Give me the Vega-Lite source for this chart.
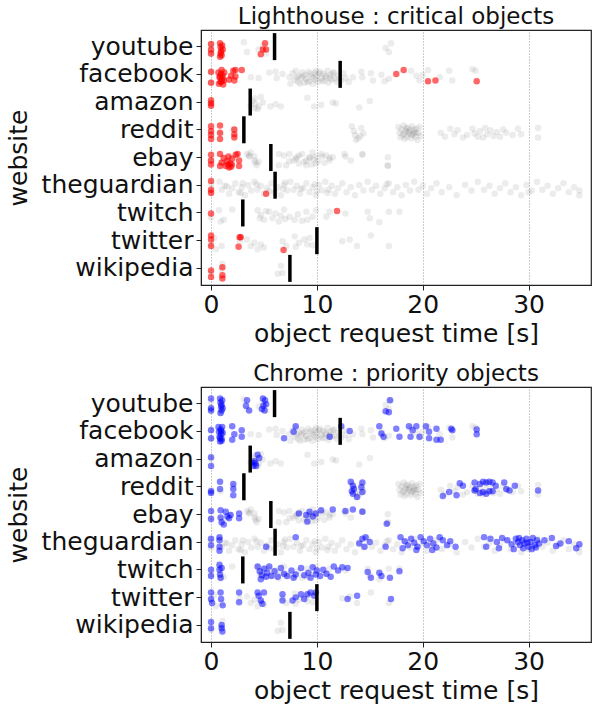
{
"$schema": "https://vega.github.io/schema/vega-lite/v6.json",
"padding": {"left": 5, "top": 5, "right": 0, "bottom": 5},
"spacing": 15,
"config": {
  "font": "DejaVu Sans",
  "view": {"stroke": "#222", "strokeWidth": 1.2},
  "title": {"fontSize": 23, "fontWeight": "normal", "color": "#111", "font": "DejaVu Sans", "offset": 1},
  "axis": {"labelFontSize": 25, "titleFontSize": 25, "labelColor": "#111", "titleColor": "#111", "titleFontWeight": "normal", "domainColor": "#222", "tickColor": "#222", "labelFont": "DejaVu Sans", "titleFont": "DejaVu Sans", "tickSize": 5},
  "axisX": {"grid": true, "gridDash": [1, 2], "gridColor": "#999", "labelPadding": 2, "titlePadding": 4},
  "axisY": {"grid": false, "labelPadding": 3, "titlePadding": 10}
},
"datasets": {
"all": [
{"w":"youtube","t":0,"j":-0.6},{"w":"youtube","t":0,"j":0.1},{"w":"youtube","t":0,"j":0.6},{"w":"youtube","t":0.9,"j":-0.5},{"w":"youtube","t":0.9,"j":0.3},{"w":"youtube","t":0.9,"j":0.8},{"w":"youtube","t":3.1,"j":-0.9},{"w":"youtube","t":3.4,"j":0.3},{"w":"youtube","t":4.5,"j":0},{"w":"youtube","t":4.9,"j":-0.4},{"w":"youtube","t":5.2,"j":0.5},{"w":"youtube","t":16.5,"j":-0.2},{"w":"youtube","t":16.8,"j":0.3},{"w":"youtube","t":17.0,"j":-0.8},
{"w":"facebook","t":0,"j":-0.6},{"w":"facebook","t":0,"j":0.6},{"w":"facebook","t":0.9,"j":-0.3},{"w":"facebook","t":0.9,"j":0.5},{"w":"facebook","t":1.1,"j":0},{"w":"facebook","t":3.75,"j":0},{"w":"facebook","t":4.5,"j":0.1},{"w":"facebook","t":5.5,"j":-0.6},{"w":"facebook","t":6.1,"j":-0.7},{"w":"facebook","t":6.2,"j":0.1},{"w":"facebook","t":6.75,"j":-0.4},{"w":"facebook","t":7.4,"j":0},{"w":"facebook","t":7.5,"j":0.8},{"w":"facebook","t":7.7,"j":-0.5},{"w":"facebook","t":7.9,"j":0.3},{"w":"facebook","t":8.0,"j":-0.8},{"w":"facebook","t":8.2,"j":0.6},{"w":"facebook","t":8.3,"j":-0.2},{"w":"facebook","t":8.5,"j":0.1},{"w":"facebook","t":8.6,"j":-0.6},{"w":"facebook","t":8.8,"j":0.7},{"w":"facebook","t":8.9,"j":-0.3},{"w":"facebook","t":9.0,"j":0.2},{"w":"facebook","t":9.2,"j":-0.7},{"w":"facebook","t":9.3,"j":0.5},{"w":"facebook","t":9.5,"j":-0.1},{"w":"facebook","t":9.6,"j":0.8},{"w":"facebook","t":9.8,"j":-0.5},{"w":"facebook","t":9.9,"j":0.3},{"w":"facebook","t":10.0,"j":-0.2},{"w":"facebook","t":10.1,"j":0.6},{"w":"facebook","t":10.3,"j":-0.7},{"w":"facebook","t":10.4,"j":0.1},{"w":"facebook","t":10.6,"j":-0.4},{"w":"facebook","t":10.7,"j":0.5},{"w":"facebook","t":10.9,"j":0},{"w":"facebook","t":11.0,"j":-0.8},{"w":"facebook","t":11.1,"j":0.7},{"w":"facebook","t":11.3,"j":-0.3},{"w":"facebook","t":11.4,"j":0.3},{"w":"facebook","t":11.6,"j":-0.6},{"w":"facebook","t":11.7,"j":0.2},{"w":"facebook","t":11.9,"j":0.6},{"w":"facebook","t":12.0,"j":-0.2},{"w":"facebook","t":12.3,"j":0.4},{"w":"facebook","t":12.5,"j":-0.5},{"w":"facebook","t":12.7,"j":0.1},{"w":"facebook","t":13.0,"j":0.6},{"w":"facebook","t":13.4,"j":0},{"w":"facebook","t":14.2,"j":-0.7},{"w":"facebook","t":14.3,"j":0},{"w":"facebook","t":15.1,"j":-0.5},{"w":"facebook","t":15.3,"j":0.4},{"w":"facebook","t":16.1,"j":-0.3},{"w":"facebook","t":16.4,"j":0.5},{"w":"facebook","t":16.8,"j":0.2},{"w":"facebook","t":18.9,"j":-0.8},{"w":"facebook","t":19.4,"j":-0.2},{"w":"facebook","t":19.7,"j":0.4},{"w":"facebook","t":20.0,"j":-0.3},{"w":"facebook","t":20.5,"j":-0.9},{"w":"facebook","t":21.6,"j":0},{"w":"facebook","t":22.5,"j":-0.8},{"w":"facebook","t":22.8,"j":0.4},{"w":"facebook","t":24.7,"j":-1},{"w":"facebook","t":25.0,"j":-0.8},{"w":"facebook","t":8.1,"j":0},{"w":"facebook","t":8.7,"j":-0.1},{"w":"facebook","t":9.1,"j":0.6},{"w":"facebook","t":9.4,"j":-0.4},{"w":"facebook","t":9.7,"j":0.1},{"w":"facebook","t":10.2,"j":-0.5},{"w":"facebook","t":10.5,"j":0.4},{"w":"facebook","t":10.8,"j":-0.2},{"w":"facebook","t":11.2,"j":0.1},{"w":"facebook","t":11.5,"j":-0.5},{"w":"facebook","t":8.4,"j":0.8},{"w":"facebook","t":9.9,"j":-0.8},
{"w":"amazon","t":0,"j":-0.3},{"w":"amazon","t":3.75,"j":0.1},{"w":"amazon","t":3.9,"j":-0.5},{"w":"amazon","t":4.1,"j":-0.8},{"w":"amazon","t":4.2,"j":-0.2},{"w":"amazon","t":4.5,"j":0.2},{"w":"amazon","t":4.1,"j":0.4},{"w":"amazon","t":4.7,"j":-1},{"w":"amazon","t":4.9,"j":-0.3},{"w":"amazon","t":5.6,"j":0.2},{"w":"amazon","t":6.1,"j":-0.1},{"w":"amazon","t":6.6,"j":0.2},{"w":"amazon","t":9.1,"j":-0.9},{"w":"amazon","t":9.75,"j":0.2},{"w":"amazon","t":10.4,"j":0},{"w":"amazon","t":11.5,"j":-0.3},{"w":"amazon","t":11.8,"j":-0.2},{"w":"amazon","t":14.0,"j":0.3},{"w":"amazon","t":15.0,"j":-0.5},{"w":"amazon","t":4.4,"j":0.5},
{"w":"reddit","t":0,"j":0},{"w":"reddit","t":0.9,"j":0.2},{"w":"reddit","t":2.1,"j":-0.4},{"w":"reddit","t":13.3,"j":-0.8},{"w":"reddit","t":13.5,"j":-0.2},{"w":"reddit","t":13.6,"j":0.3},{"w":"reddit","t":13.9,"j":0.7},{"w":"reddit","t":14.2,"j":-0.6},{"w":"reddit","t":14.4,"j":0.1},{"w":"reddit","t":13.7,"j":0.9},{"w":"reddit","t":14.1,"j":0.4},{"w":"reddit","t":17.7,"j":-0.7},{"w":"reddit","t":17.8,"j":0},{"w":"reddit","t":17.9,"j":0.6},{"w":"reddit","t":18.0,"j":-0.4},{"w":"reddit","t":18.1,"j":0.3},{"w":"reddit","t":18.2,"j":-0.9},{"w":"reddit","t":18.3,"j":0.8},{"w":"reddit","t":18.4,"j":-0.2},{"w":"reddit","t":18.5,"j":0.5},{"w":"reddit","t":18.6,"j":-0.6},{"w":"reddit","t":18.7,"j":0.1},{"w":"reddit","t":18.8,"j":-0.3},{"w":"reddit","t":18.9,"j":0.7},{"w":"reddit","t":19.0,"j":-0.8},{"w":"reddit","t":19.1,"j":0.2},{"w":"reddit","t":19.2,"j":-0.1},{"w":"reddit","t":19.3,"j":0.5},{"w":"reddit","t":19.4,"j":-0.5},{"w":"reddit","t":19.5,"j":0.9},{"w":"reddit","t":19.6,"j":0},{"w":"reddit","t":19.7,"j":-0.7},{"w":"reddit","t":19.8,"j":0.4},{"w":"reddit","t":18.25,"j":0.1},{"w":"reddit","t":18.65,"j":-0.1},{"w":"reddit","t":19.15,"j":-0.4},{"w":"reddit","t":18.45,"j":-0.6},{"w":"reddit","t":18.95,"j":0.3},{"w":"reddit","t":19.35,"j":0},{"w":"reddit","t":21.7,"j":0},{"w":"reddit","t":22.1,"j":0.5},{"w":"reddit","t":22.6,"j":-0.5},{"w":"reddit","t":23.0,"j":0.2},{"w":"reddit","t":23.3,"j":-0.3},{"w":"reddit","t":23.8,"j":0.6},{"w":"reddit","t":24.2,"j":0.3},{"w":"reddit","t":24.7,"j":-0.5},{"w":"reddit","t":24.9,"j":0.1},{"w":"reddit","t":25.2,"j":0.5},{"w":"reddit","t":25.4,"j":-0.2},{"w":"reddit","t":25.7,"j":0.6},{"w":"reddit","t":25.9,"j":-0.6},{"w":"reddit","t":26.1,"j":0.2},{"w":"reddit","t":26.4,"j":-0.3},{"w":"reddit","t":26.7,"j":0.4},{"w":"reddit","t":27.0,"j":-0.1},{"w":"reddit","t":27.3,"j":0.5},{"w":"reddit","t":27.6,"j":-0.4},{"w":"reddit","t":27.9,"j":0},{"w":"reddit","t":28.5,"j":0.3},{"w":"reddit","t":29.0,"j":-0.5},{"w":"reddit","t":29.3,"j":0.2},{"w":"reddit","t":30.9,"j":-0.6},{"w":"reddit","t":30.9,"j":0.6},
{"w":"ebay","t":0,"j":0},{"w":"ebay","t":1.0,"j":0.2},{"w":"ebay","t":1.8,"j":-0.3},{"w":"ebay","t":3.4,"j":-0.8},{"w":"ebay","t":3.75,"j":-1},{"w":"ebay","t":4.1,"j":-0.5},{"w":"ebay","t":4.1,"j":0},{"w":"ebay","t":4.5,"j":0.2},{"w":"ebay","t":3.6,"j":-0.5},{"w":"ebay","t":4.3,"j":0.6},{"w":"ebay","t":6.4,"j":-0.8},{"w":"ebay","t":6.9,"j":-0.6},{"w":"ebay","t":7.4,"j":-0.8},{"w":"ebay","t":8.0,"j":-0.2},{"w":"ebay","t":8.3,"j":-0.6},{"w":"ebay","t":8.6,"j":-0.8},{"w":"ebay","t":9.0,"j":0},{"w":"ebay","t":9.3,"j":-0.4},{"w":"ebay","t":9.6,"j":-1},{"w":"ebay","t":9.9,"j":-0.5},{"w":"ebay","t":10.4,"j":-0.8},{"w":"ebay","t":10.9,"j":-0.6},{"w":"ebay","t":11.2,"j":0},{"w":"ebay","t":11.5,"j":-0.4},{"w":"ebay","t":12.6,"j":-0.8},{"w":"ebay","t":13.2,"j":0},{"w":"ebay","t":14.3,"j":-0.8},{"w":"ebay","t":16.7,"j":-0.4},{"w":"ebay","t":16.7,"j":0.6},{"w":"ebay","t":3.6,"j":-0.6},{"w":"ebay","t":4.2,"j":0.3},{"w":"ebay","t":6.4,"j":0.6},{"w":"ebay","t":7.1,"j":0.6},{"w":"ebay","t":7.4,"j":0.1},{"w":"ebay","t":8.3,"j":0.4},{"w":"ebay","t":9.0,"j":0.6},{"w":"ebay","t":9.3,"j":-0.3},{"w":"ebay","t":9.9,"j":0.4},{"w":"ebay","t":10.5,"j":-0.5},{"w":"ebay","t":11.2,"j":-0.3},{"w":"ebay","t":12.7,"j":-0.5},{"w":"ebay","t":14.3,"j":-0.7},{"w":"ebay","t":16.7,"j":0.7},{"w":"ebay","t":7.8,"j":0},{"w":"ebay","t":8.8,"j":0.2},{"w":"ebay","t":9.5,"j":0.5},{"w":"ebay","t":10.1,"j":0.1},{"w":"ebay","t":8.1,"j":-0.4},{"w":"ebay","t":9.7,"j":-0.2},{"w":"ebay","t":10.7,"j":0.3},
{"w":"theguardian","t":0,"j":-0.5},{"w":"theguardian","t":0,"j":0.4},{"w":"theguardian","t":0.8,"j":-0.8},{"w":"theguardian","t":1.0,"j":0.2},{"w":"theguardian","t":1.3,"j":-0.3},{"w":"theguardian","t":1.7,"j":0.7},{"w":"theguardian","t":2.0,"j":0},{"w":"theguardian","t":2.3,"j":-0.6},{"w":"theguardian","t":2.6,"j":0.5},{"w":"theguardian","t":2.9,"j":-0.1},{"w":"theguardian","t":3.2,"j":0.9},{"w":"theguardian","t":3.5,"j":-0.4},{"w":"theguardian","t":3.8,"j":0.3},{"w":"theguardian","t":4.1,"j":-0.8},{"w":"theguardian","t":4.4,"j":0.2},{"w":"theguardian","t":4.7,"j":-0.3},{"w":"theguardian","t":5.0,"j":0.7},{"w":"theguardian","t":5.3,"j":0},{"w":"theguardian","t":5.7,"j":-0.6},{"w":"theguardian","t":6.0,"j":0.5},{"w":"theguardian","t":6.3,"j":-0.1},{"w":"theguardian","t":6.6,"j":0.9},{"w":"theguardian","t":6.9,"j":-0.4},{"w":"theguardian","t":7.2,"j":0.3},{"w":"theguardian","t":7.5,"j":-0.8},{"w":"theguardian","t":7.8,"j":0.2},{"w":"theguardian","t":8.1,"j":-0.3},{"w":"theguardian","t":8.4,"j":0.7},{"w":"theguardian","t":8.7,"j":0},{"w":"theguardian","t":9.0,"j":-0.6},{"w":"theguardian","t":9.3,"j":0.5},{"w":"theguardian","t":9.6,"j":-0.1},{"w":"theguardian","t":9.9,"j":0.9},{"w":"theguardian","t":10.2,"j":-0.4},{"w":"theguardian","t":10.5,"j":0.3},{"w":"theguardian","t":10.8,"j":-0.8},{"w":"theguardian","t":11.1,"j":0.2},{"w":"theguardian","t":11.4,"j":-0.3},{"w":"theguardian","t":11.7,"j":0.7},{"w":"theguardian","t":12.0,"j":0},{"w":"theguardian","t":12.4,"j":-0.6},{"w":"theguardian","t":12.8,"j":0.5},{"w":"theguardian","t":13.2,"j":-0.1},{"w":"theguardian","t":13.6,"j":0.9},{"w":"theguardian","t":14.0,"j":-0.4},{"w":"theguardian","t":14.4,"j":0.3},{"w":"theguardian","t":14.8,"j":-0.8},{"w":"theguardian","t":15.2,"j":0.2},{"w":"theguardian","t":15.6,"j":-0.3},{"w":"theguardian","t":16.0,"j":0.7},{"w":"theguardian","t":16.4,"j":0},{"w":"theguardian","t":16.8,"j":-0.6},{"w":"theguardian","t":17.2,"j":0.5},{"w":"theguardian","t":17.6,"j":-0.1},{"w":"theguardian","t":18.0,"j":0.9},{"w":"theguardian","t":18.4,"j":-0.4},{"w":"theguardian","t":18.8,"j":0.3},{"w":"theguardian","t":19.2,"j":-0.8},{"w":"theguardian","t":19.6,"j":0.2},{"w":"theguardian","t":20.0,"j":-0.3},{"w":"theguardian","t":20.4,"j":0.7},{"w":"theguardian","t":20.8,"j":0},{"w":"theguardian","t":21.3,"j":-0.6},{"w":"theguardian","t":21.8,"j":0.5},{"w":"theguardian","t":22.5,"j":-0.1},{"w":"theguardian","t":23.2,"j":0.9},{"w":"theguardian","t":24.0,"j":-0.4},{"w":"theguardian","t":24.6,"j":0.3},{"w":"theguardian","t":25.2,"j":-0.8},{"w":"theguardian","t":25.8,"j":0.2},{"w":"theguardian","t":26.3,"j":-0.3},{"w":"theguardian","t":26.8,"j":0.7},{"w":"theguardian","t":27.3,"j":0},{"w":"theguardian","t":27.8,"j":-0.6},{"w":"theguardian","t":28.3,"j":0.5},{"w":"theguardian","t":28.8,"j":-0.1},{"w":"theguardian","t":29.3,"j":0.9},{"w":"theguardian","t":29.8,"j":-0.4},{"w":"theguardian","t":30.3,"j":0.3},{"w":"theguardian","t":30.8,"j":-0.8},{"w":"theguardian","t":31.3,"j":0.2},{"w":"theguardian","t":31.8,"j":-0.3},{"w":"theguardian","t":32.3,"j":0.7},{"w":"theguardian","t":32.8,"j":0},{"w":"theguardian","t":33.3,"j":-0.6},{"w":"theguardian","t":33.8,"j":0.5},{"w":"theguardian","t":34.3,"j":-0.1},{"w":"theguardian","t":34.8,"j":0.9},{"w":"theguardian","t":1.5,"j":-0.2},{"w":"theguardian","t":2.8,"j":0.6},{"w":"theguardian","t":4.3,"j":-0.5},{"w":"theguardian","t":5.5,"j":0.4},{"w":"theguardian","t":7.0,"j":-0.7},{"w":"theguardian","t":8.5,"j":0.1},{"w":"theguardian","t":9.8,"j":-0.5},{"w":"theguardian","t":11.0,"j":0.6},{"w":"theguardian","t":3.0,"j":-0.6},{"w":"theguardian","t":6.8,"j":0.1},{"w":"theguardian","t":10.0,"j":0.4},{"w":"theguardian","t":34.8,"j":0.3},{"w":"theguardian","t":30.0,"j":0.5},{"w":"theguardian","t":16.6,"j":-0.5},
{"w":"twitch","t":0,"j":0.2},{"w":"twitch","t":0.75,"j":-0.7},{"w":"twitch","t":0.9,"j":0.7},{"w":"twitch","t":1.2,"j":0.5},{"w":"twitch","t":2.0,"j":-0.8},{"w":"twitch","t":4.4,"j":-0.7},{"w":"twitch","t":4.7,"j":-0.1},{"w":"twitch","t":5.0,"j":0.5},{"w":"twitch","t":5.5,"j":-0.5},{"w":"twitch","t":5.8,"j":0.3},{"w":"twitch","t":6.1,"j":-0.3},{"w":"twitch","t":6.4,"j":0.7},{"w":"twitch","t":6.9,"j":-0.8},{"w":"twitch","t":7.4,"j":0.1},{"w":"twitch","t":7.9,"j":0.5},{"w":"twitch","t":9.0,"j":-0.5},{"w":"twitch","t":9.1,"j":0.5},{"w":"twitch","t":9.6,"j":0.1},{"w":"twitch","t":9.9,"j":-0.7},{"w":"twitch","t":10.9,"j":0.1},{"w":"twitch","t":11.2,"j":-0.5},{"w":"twitch","t":12.7,"j":-0.3},{"w":"twitch","t":14.8,"j":-0.5},{"w":"twitch","t":15.0,"j":0.3},{"w":"twitch","t":15.9,"j":0.8},{"w":"twitch","t":16.8,"j":-0.5},{"w":"twitch","t":17.8,"j":-0.5},{"w":"twitch","t":4.6,"j":0.3},{"w":"twitch","t":5.2,"j":-0.6},{"w":"twitch","t":6.6,"j":0},{"w":"twitch","t":7.0,"j":0.4},{"w":"twitch","t":8.2,"j":-0.2},{"w":"twitch","t":8.6,"j":0.6},
{"w":"twitter","t":0,"j":0},{"w":"twitter","t":0.3,"j":-0.7},{"w":"twitter","t":0.45,"j":0.7},{"w":"twitter","t":1.0,"j":0.3},{"w":"twitter","t":3.4,"j":-0.5},{"w":"twitter","t":3.75,"j":0.3},{"w":"twitter","t":4.1,"j":-0.1},{"w":"twitter","t":4.4,"j":0.7},{"w":"twitter","t":4.7,"j":0.1},{"w":"twitter","t":5.0,"j":0.5},{"w":"twitter","t":6.75,"j":-0.3},{"w":"twitter","t":7.1,"j":0.3},{"w":"twitter","t":7.9,"j":-0.9},{"w":"twitter","t":8.0,"j":0.4},{"w":"twitter","t":8.3,"j":-0.1},{"w":"twitter","t":8.8,"j":-0.5},{"w":"twitter","t":9.1,"j":0.1},{"w":"twitter","t":9.3,"j":-0.7},{"w":"twitter","t":12.4,"j":-0.3},{"w":"twitter","t":13.1,"j":-0.5},{"w":"twitter","t":13.8,"j":0.3},{"w":"twitter","t":15.1,"j":-1},{"w":"twitter","t":16.8,"j":0.3},{"w":"twitter","t":2.7,"j":-0.3},{"w":"twitter","t":9.6,"j":0.2},
{"w":"wikipedia","t":0,"j":0.2},{"w":"wikipedia","t":1.0,"j":-0.2},{"w":"wikipedia","t":1.07,"j":-0.9},{"w":"wikipedia","t":6.3,"j":0.3},{"w":"wikipedia","t":6.6,"j":-0.7},{"w":"wikipedia","t":6.75,"j":0.2}
],
"lh": [
{"w":"youtube","t":0,"j":-0.7},{"w":"youtube","t":0,"j":0},{"w":"youtube","t":0,"j":0.5},{"w":"youtube","t":0.85,"j":-0.8},{"w":"youtube","t":0.9,"j":-0.3},{"w":"youtube","t":0.95,"j":0.2},{"w":"youtube","t":1.0,"j":0.7},{"w":"youtube","t":1.05,"j":-0.5},{"w":"youtube","t":0.9,"j":0.5},{"w":"youtube","t":1.1,"j":0},{"w":"youtube","t":0.85,"j":0.9},{"w":"youtube","t":4.7,"j":0.6},{"w":"youtube","t":4.9,"j":0},{"w":"youtube","t":5.1,"j":-0.8},{"w":"youtube","t":5.2,"j":0},
{"w":"facebook","t":0,"j":-0.7},{"w":"facebook","t":0,"j":0.7},{"w":"facebook","t":0.7,"j":-0.6},{"w":"facebook","t":0.8,"j":0},{"w":"facebook","t":0.9,"j":0.6},{"w":"facebook","t":1.0,"j":-0.9},{"w":"facebook","t":1.1,"j":-0.2},{"w":"facebook","t":1.2,"j":0.4},{"w":"facebook","t":0.75,"j":0.8},{"w":"facebook","t":0.95,"j":-0.4},{"w":"facebook","t":1.05,"j":0.2},{"w":"facebook","t":1.15,"j":0.9},{"w":"facebook","t":0.85,"j":-0.1},{"w":"facebook","t":1.25,"j":-0.6},{"w":"facebook","t":1.0,"j":0.5},{"w":"facebook","t":1.9,"j":-0.2},{"w":"facebook","t":2.1,"j":-0.8},{"w":"facebook","t":2.3,"j":-0.9},{"w":"facebook","t":2.2,"j":0.4},{"w":"facebook","t":2.9,"j":-0.9},{"w":"facebook","t":2.3,"j":-0.1},{"w":"facebook","t":1.7,"j":0.3},{"w":"facebook","t":17.5,"j":-0.4},{"w":"facebook","t":18.2,"j":-0.9},{"w":"facebook","t":20.5,"j":0.5},{"w":"facebook","t":21.2,"j":0.4},{"w":"facebook","t":25.1,"j":0.5},
{"w":"amazon","t":0,"j":-0.6},{"w":"amazon","t":0,"j":-0.2},{"w":"amazon","t":0,"j":0.1},
{"w":"reddit","t":0,"j":-0.8},{"w":"reddit","t":0,"j":-0.2},{"w":"reddit","t":0,"j":0.3},{"w":"reddit","t":0,"j":0.8},{"w":"reddit","t":0.85,"j":-0.9},{"w":"reddit","t":0.85,"j":0},{"w":"reddit","t":0.85,"j":0.8},{"w":"reddit","t":2.2,"j":-0.4},{"w":"reddit","t":2.2,"j":0.2},{"w":"reddit","t":2.2,"j":0.6},
{"w":"ebay","t":0,"j":-0.7},{"w":"ebay","t":0,"j":0},{"w":"ebay","t":0,"j":0.5},{"w":"ebay","t":0.85,"j":-0.8},{"w":"ebay","t":0.85,"j":0.7},{"w":"ebay","t":1.0,"j":0.3},{"w":"ebay","t":1.39,"j":0.7},{"w":"ebay","t":1.5,"j":0.1},{"w":"ebay","t":1.64,"j":-0.5},{"w":"ebay","t":1.7,"j":0.9},{"w":"ebay","t":1.8,"j":0.4},{"w":"ebay","t":1.96,"j":0.5},{"w":"ebay","t":2.0,"j":-0.2},{"w":"ebay","t":2.33,"j":-0.7},{"w":"ebay","t":2.5,"j":-0.8},{"w":"ebay","t":2.65,"j":0.7},{"w":"ebay","t":2.65,"j":0},{"w":"ebay","t":1.2,"j":-0.3},{"w":"ebay","t":1.6,"j":0.5},{"w":"ebay","t":1.9,"j":0.8},
{"w":"theguardian","t":0,"j":-0.9},{"w":"theguardian","t":0,"j":0.2},{"w":"theguardian","t":0,"j":0.6},{"w":"theguardian","t":5.2,"j":0.7},
{"w":"twitch","t":0,"j":-0.3},{"w":"twitch","t":11.9,"j":-0.6},
{"w":"twitter","t":0,"j":-1},{"w":"twitter","t":0,"j":-0.5},{"w":"twitter","t":0,"j":0.3},{"w":"twitter","t":2.7,"j":-0.8},{"w":"twitter","t":2.8,"j":-0.8},{"w":"twitter","t":2.6,"j":0.4},{"w":"twitter","t":6.85,"j":0.8},
{"w":"wikipedia","t":0,"j":-0.1},{"w":"wikipedia","t":0,"j":0.7},{"w":"wikipedia","t":1.07,"j":-0.5},{"w":"wikipedia","t":1.07,"j":0.5},{"w":"wikipedia","t":1.07,"j":0.9}
],
"ch": [
{"w":"youtube","t":0,"j":-1},{"w":"youtube","t":0,"j":0.2},{"w":"youtube","t":0,"j":0.5},{"w":"youtube","t":0.85,"j":-1},{"w":"youtube","t":0.9,"j":-0.5},{"w":"youtube","t":0.95,"j":0},{"w":"youtube","t":1.0,"j":0.5},{"w":"youtube","t":1.05,"j":-0.8},{"w":"youtube","t":1.1,"j":0.2},{"w":"youtube","t":0.9,"j":0.8},{"w":"youtube","t":1.0,"j":-0.2},{"w":"youtube","t":3.4,"j":-0.8},{"w":"youtube","t":3.3,"j":-0.1},{"w":"youtube","t":3.6,"j":0.5},{"w":"youtube","t":4.9,"j":-1},{"w":"youtube","t":5.1,"j":-0.8},{"w":"youtube","t":4.95,"j":-0.1},{"w":"youtube","t":5.05,"j":0.5},{"w":"youtube","t":4.8,"j":0.3},{"w":"youtube","t":5.2,"j":-0.3},{"w":"youtube","t":16.9,"j":-0.8},{"w":"youtube","t":16.5,"j":0.6},{"w":"youtube","t":16.8,"j":0.7},
{"w":"facebook","t":0,"j":-0.5},{"w":"facebook","t":0,"j":0.5},{"w":"facebook","t":0.7,"j":-0.9},{"w":"facebook","t":0.75,"j":-0.3},{"w":"facebook","t":0.8,"j":0.3},{"w":"facebook","t":0.85,"j":0.9},{"w":"facebook","t":0.9,"j":-0.6},{"w":"facebook","t":0.95,"j":0},{"w":"facebook","t":1.0,"j":0.6},{"w":"facebook","t":1.05,"j":-0.9},{"w":"facebook","t":1.1,"j":-0.2},{"w":"facebook","t":1.0,"j":0.8},{"w":"facebook","t":0.85,"j":0.5},{"w":"facebook","t":0.95,"j":-0.4},{"w":"facebook","t":2.0,"j":-1},{"w":"facebook","t":2.2,"j":0},{"w":"facebook","t":2.0,"j":0.7},{"w":"facebook","t":2.9,"j":-0.5},{"w":"facebook","t":2.9,"j":0.3},{"w":"facebook","t":6.9,"j":0.5},{"w":"facebook","t":8.0,"j":-1},{"w":"facebook","t":7.8,"j":-0.3},{"w":"facebook","t":11.2,"j":0.3},{"w":"facebook","t":12.3,"j":-1},{"w":"facebook","t":13.1,"j":-0.4},{"w":"facebook","t":15.9,"j":-1},{"w":"facebook","t":16.1,"j":-0.1},{"w":"facebook","t":16.3,"j":0.3},{"w":"facebook","t":17.5,"j":-0.7},{"w":"facebook","t":17.8,"j":0.3},{"w":"facebook","t":18.7,"j":-1},{"w":"facebook","t":19.05,"j":-0.5},{"w":"facebook","t":19.4,"j":-1},{"w":"facebook","t":18.85,"j":0.3},{"w":"facebook","t":19.7,"j":0.3},{"w":"facebook","t":20.3,"j":-1},{"w":"facebook","t":20.6,"j":-0.3},{"w":"facebook","t":20.6,"j":0.5},{"w":"facebook","t":21.3,"j":-0.7},{"w":"facebook","t":21.3,"j":0.7},{"w":"facebook","t":21.7,"j":0.7},{"w":"facebook","t":22.7,"j":-0.7},{"w":"facebook","t":22.8,"j":-0.5},{"w":"facebook","t":25.1,"j":-0.6},{"w":"facebook","t":25.1,"j":0},
{"w":"amazon","t":0,"j":-0.6},{"w":"amazon","t":0,"j":0.5},{"w":"amazon","t":3.9,"j":0.1},{"w":"amazon","t":4.1,"j":-0.1},{"w":"amazon","t":4.25,"j":0.5},{"w":"amazon","t":4.4,"j":-0.9},{"w":"amazon","t":4.55,"j":-0.5},{"w":"amazon","t":4.0,"j":0.5},{"w":"amazon","t":4.2,"j":0.2},
{"w":"reddit","t":0,"j":0.2},{"w":"reddit","t":0,"j":0.4},{"w":"reddit","t":0.85,"j":-1},{"w":"reddit","t":0.85,"j":-0.1},{"w":"reddit","t":2.1,"j":-0.7},{"w":"reddit","t":2.1,"j":-0.1},{"w":"reddit","t":2.1,"j":0.7},{"w":"reddit","t":13.2,"j":-1},{"w":"reddit","t":13.4,"j":-0.5},{"w":"reddit","t":13.5,"j":-0.1},{"w":"reddit","t":13.4,"j":0.5},{"w":"reddit","t":13.8,"j":0.9},{"w":"reddit","t":14.3,"j":-0.9},{"w":"reddit","t":14.2,"j":-0.3},{"w":"reddit","t":14.3,"j":0.3},{"w":"reddit","t":13.3,"j":0.2},{"w":"reddit","t":21.9,"j":0.8},{"w":"reddit","t":22.5,"j":0.3},{"w":"reddit","t":23.2,"j":0.7},{"w":"reddit","t":23.5,"j":-0.8},{"w":"reddit","t":23.8,"j":-0.5},{"w":"reddit","t":24.9,"j":-0.9},{"w":"reddit","t":25.0,"j":-0.1},{"w":"reddit","t":25.4,"j":-0.7},{"w":"reddit","t":25.7,"j":-1},{"w":"reddit","t":26.0,"j":-0.9},{"w":"reddit","t":26.3,"j":-1},{"w":"reddit","t":26.6,"j":-0.9},{"w":"reddit","t":26.9,"j":-0.5},{"w":"reddit","t":25.7,"j":0.3},{"w":"reddit","t":26.0,"j":0.5},{"w":"reddit","t":26.3,"j":0.2},{"w":"reddit","t":25.4,"j":0.4},{"w":"reddit","t":27.7,"j":-0.9},{"w":"reddit","t":27.9,"j":-0.1},{"w":"reddit","t":28.2,"j":0.1},{"w":"reddit","t":28.7,"j":-0.5},{"w":"reddit","t":30.9,"j":0.1},{"w":"reddit","t":24.9,"j":0.1},{"w":"reddit","t":26.6,"j":0.2},
{"w":"ebay","t":0,"j":-0.8},{"w":"ebay","t":0,"j":0.2},{"w":"ebay","t":0.9,"j":-0.9},{"w":"ebay","t":0.9,"j":0},{"w":"ebay","t":1.39,"j":-0.7},{"w":"ebay","t":1.55,"j":-0.1},{"w":"ebay","t":1.7,"j":0.1},{"w":"ebay","t":1.85,"j":-0.3},{"w":"ebay","t":2.65,"j":-0.5},{"w":"ebay","t":2.65,"j":0.1},{"w":"ebay","t":1.0,"j":0.6},{"w":"ebay","t":1.2,"j":0.9},{"w":"ebay","t":8.3,"j":-0.5},{"w":"ebay","t":9.0,"j":-0.3},{"w":"ebay","t":9.3,"j":-0.7},{"w":"ebay","t":9.6,"j":-0.1},{"w":"ebay","t":9.9,"j":-0.5},{"w":"ebay","t":10.4,"j":-0.9},{"w":"ebay","t":11.5,"j":-1},{"w":"ebay","t":12.7,"j":-0.8},{"w":"ebay","t":13.4,"j":-1},{"w":"ebay","t":14.3,"j":-0.7},{"w":"ebay","t":9.1,"j":0.5},{"w":"ebay","t":16.6,"j":0.8},
{"w":"theguardian","t":0,"j":-0.8},{"w":"theguardian","t":0,"j":0},{"w":"theguardian","t":0.8,"j":-1},{"w":"theguardian","t":0.8,"j":-0.6},{"w":"theguardian","t":0.8,"j":0.2},{"w":"theguardian","t":0.8,"j":0.7},{"w":"theguardian","t":5.2,"j":0.2},{"w":"theguardian","t":8.0,"j":-1},{"w":"theguardian","t":14.0,"j":-0.2},{"w":"theguardian","t":14.3,"j":-0.8},{"w":"theguardian","t":14.6,"j":-1},{"w":"theguardian","t":14.5,"j":0.2},{"w":"theguardian","t":15.0,"j":-0.4},{"w":"theguardian","t":16.5,"j":0.2},{"w":"theguardian","t":17.9,"j":-1},{"w":"theguardian","t":18.3,"j":-0.5},{"w":"theguardian","t":18.6,"j":0},{"w":"theguardian","t":18.9,"j":-0.8},{"w":"theguardian","t":19.2,"j":-0.3},{"w":"theguardian","t":19.5,"j":0.2},{"w":"theguardian","t":19.8,"j":-1},{"w":"theguardian","t":20.1,"j":-0.5},{"w":"theguardian","t":20.4,"j":0},{"w":"theguardian","t":20.7,"j":-0.8},{"w":"theguardian","t":21.0,"j":-0.2},{"w":"theguardian","t":21.3,"j":0.3},{"w":"theguardian","t":21.6,"j":-1},{"w":"theguardian","t":21.9,"j":-0.6},{"w":"theguardian","t":22.3,"j":0},{"w":"theguardian","t":22.6,"j":-0.5},{"w":"theguardian","t":23.1,"j":0.2},{"w":"theguardian","t":18.1,"j":0.4},{"w":"theguardian","t":20.9,"j":0.6},{"w":"theguardian","t":19.4,"j":0.6},{"w":"theguardian","t":25.8,"j":-1},{"w":"theguardian","t":26.4,"j":-0.8},{"w":"theguardian","t":27.0,"j":-0.4},{"w":"theguardian","t":27.5,"j":-0.9},{"w":"theguardian","t":28.0,"j":-0.6},{"w":"theguardian","t":28.4,"j":-0.1},{"w":"theguardian","t":28.8,"j":-0.8},{"w":"theguardian","t":29.0,"j":-0.4},{"w":"theguardian","t":29.2,"j":0},{"w":"theguardian","t":29.4,"j":-0.6},{"w":"theguardian","t":29.6,"j":-0.2},{"w":"theguardian","t":29.8,"j":-0.8},{"w":"theguardian","t":30.0,"j":0.2},{"w":"theguardian","t":30.2,"j":-0.4},{"w":"theguardian","t":30.4,"j":-0.9},{"w":"theguardian","t":30.6,"j":0},{"w":"theguardian","t":30.8,"j":-0.6},{"w":"theguardian","t":31.0,"j":-0.2},{"w":"theguardian","t":29.1,"j":-0.9},{"w":"theguardian","t":29.5,"j":0.4},{"w":"theguardian","t":29.9,"j":-0.3},{"w":"theguardian","t":30.3,"j":0.5},{"w":"theguardian","t":30.7,"j":0.3},{"w":"theguardian","t":27.2,"j":0.4},{"w":"theguardian","t":31.5,"j":-0.6},{"w":"theguardian","t":32.2,"j":-0.9},{"w":"theguardian","t":33.0,"j":-0.2},{"w":"theguardian","t":33.8,"j":-0.5},{"w":"theguardian","t":34.5,"j":0.4},{"w":"theguardian","t":34.8,"j":-0.1},{"w":"theguardian","t":32.6,"j":0.1},{"w":"theguardian","t":26.0,"j":0.2},{"w":"theguardian","t":28.6,"j":0.5},
{"w":"twitch","t":0,"j":-0.4},{"w":"twitch","t":0,"j":0.4},{"w":"twitch","t":0.8,"j":-1},{"w":"twitch","t":0.8,"j":-0.4},{"w":"twitch","t":0.85,"j":0.2},{"w":"twitch","t":0.9,"j":0.6},{"w":"twitch","t":1.0,"j":-0.6},{"w":"twitch","t":4.4,"j":-0.8},{"w":"twitch","t":4.6,"j":-0.2},{"w":"twitch","t":4.8,"j":0.3},{"w":"twitch","t":5.0,"j":-0.5},{"w":"twitch","t":5.3,"j":0},{"w":"twitch","t":5.5,"j":-0.8},{"w":"twitch","t":5.7,"j":0.4},{"w":"twitch","t":6.0,"j":-0.2},{"w":"twitch","t":6.3,"j":0.5},{"w":"twitch","t":6.6,"j":-0.6},{"w":"twitch","t":6.9,"j":0.1},{"w":"twitch","t":7.2,"j":0.4},{"w":"twitch","t":7.6,"j":-0.3},{"w":"twitch","t":8.0,"j":0.2},{"w":"twitch","t":8.5,"j":-0.6},{"w":"twitch","t":8.8,"j":0.3},{"w":"twitch","t":9.2,"j":0},{"w":"twitch","t":9.6,"j":-0.7},{"w":"twitch","t":9.9,"j":0.2},{"w":"twitch","t":10.3,"j":0.4},{"w":"twitch","t":10.6,"j":-0.4},{"w":"twitch","t":10.9,"j":0.1},{"w":"twitch","t":11.3,"j":0.5},{"w":"twitch","t":11.6,"j":-0.8},{"w":"twitch","t":12.0,"j":-0.3},{"w":"twitch","t":12.4,"j":-0.7},{"w":"twitch","t":12.9,"j":-0.6},{"w":"twitch","t":14.8,"j":-0.1},{"w":"twitch","t":15.1,"j":0.6},{"w":"twitch","t":15.9,"j":0},{"w":"twitch","t":16.1,"j":0.4},{"w":"twitch","t":16.9,"j":0.6},{"w":"twitch","t":17.8,"j":-0.2},{"w":"twitch","t":5.2,"j":0.5},{"w":"twitch","t":7.8,"j":0.6},{"w":"twitch","t":9.4,"j":0.6},{"w":"twitch","t":10.0,"j":-0.3},{"w":"twitch","t":4.7,"j":0.8},
{"w":"twitter","t":0,"j":-1},{"w":"twitter","t":0,"j":-0.2},{"w":"twitter","t":0.1,"j":0.3},{"w":"twitter","t":0.9,"j":-1},{"w":"twitter","t":0.95,"j":-0.2},{"w":"twitter","t":1.1,"j":0.6},{"w":"twitter","t":2.65,"j":-1},{"w":"twitter","t":2.65,"j":0.2},{"w":"twitter","t":4.4,"j":-1},{"w":"twitter","t":4.5,"j":-0.6},{"w":"twitter","t":4.7,"j":0},{"w":"twitter","t":5.0,"j":-1},{"w":"twitter","t":4.85,"j":0.4},{"w":"twitter","t":6.75,"j":-0.8},{"w":"twitter","t":6.75,"j":0},{"w":"twitter","t":7.7,"j":0},{"w":"twitter","t":8.0,"j":-0.4},{"w":"twitter","t":8.5,"j":-0.8},{"w":"twitter","t":8.8,"j":-0.2},{"w":"twitter","t":9.1,"j":-0.8},{"w":"twitter","t":9.4,"j":-1},{"w":"twitter","t":9.75,"j":-0.6},{"w":"twitter","t":9.9,"j":-1},{"w":"twitter","t":12.9,"j":-0.2},{"w":"twitter","t":13.8,"j":-0.6},{"w":"twitter","t":17.0,"j":-0.2},
{"w":"wikipedia","t":0,"j":-0.8},{"w":"wikipedia","t":0,"j":0},{"w":"wikipedia","t":1.0,"j":-0.4},{"w":"wikipedia","t":1.0,"j":0},{"w":"wikipedia","t":1.07,"j":0.4}
],
"med": [
{"w":"youtube","t":6.0},{"w":"facebook","t":12.2},{"w":"amazon","t":3.7},{"w":"reddit","t":3.1},{"w":"ebay","t":5.65},{"w":"theguardian","t":6.05},{"w":"twitch","t":3.0},{"w":"twitter","t":10.0},{"w":"wikipedia","t":7.45}
]
},
"vconcat": [
{
  "title": "Lighthouse : critical objects",
  "width": 390, "height": 255,
  "encoding": {
    "y": {"field": "w", "type": "nominal", "title": "website", "sort": ["youtube","facebook","amazon","reddit","ebay","theguardian","twitch","twitter","wikipedia"], "axis": {"labelFontSize": 25, "titleFontSize": 25}},
    "x": {"field": "t", "type": "quantitative", "title": "object request time [s]", "scale": {"domain": [-0.95, 35.9], "nice": false, "zero": false}, "axis": {"values": [0, 10, 20, 30], "labelFontSize": 25, "titleFontSize": 25}}
  },
  "layer": [
    {"data": {"name": "all"}, "mark": {"type": "circle", "size": 42, "color": "#555", "opacity": 0.11},
     "encoding": {"yOffset": {"field": "j", "type": "quantitative", "scale": {"domain": [-1, 1], "range": [6, 22]}}}},
    {"data": {"name": "lh"}, "mark": {"type": "circle", "size": 42, "color": "#ff0000", "opacity": 0.6},
     "encoding": {"yOffset": {"field": "j", "type": "quantitative", "scale": {"domain": [-1, 1], "range": [6, 22]}}}},
    {"data": {"name": "med"}, "mark": {"type": "tick", "color": "#000", "opacity": 1, "thickness": 3.5, "size": 27, "orient": "vertical"}}
  ]
},
{
  "title": "Chrome : priority objects",
  "width": 390, "height": 255,
  "encoding": {
    "y": {"field": "w", "type": "nominal", "title": "website", "sort": ["youtube","facebook","amazon","reddit","ebay","theguardian","twitch","twitter","wikipedia"], "axis": {"labelFontSize": 25, "titleFontSize": 25}},
    "x": {"field": "t", "type": "quantitative", "title": "object request time [s]", "scale": {"domain": [-0.95, 35.9], "nice": false, "zero": false}, "axis": {"values": [0, 10, 20, 30], "labelFontSize": 25, "titleFontSize": 25}}
  },
  "layer": [
    {"data": {"name": "all"}, "mark": {"type": "circle", "size": 42, "color": "#555", "opacity": 0.11},
     "encoding": {"yOffset": {"field": "j", "type": "quantitative", "scale": {"domain": [-1, 1], "range": [6, 22]}}}},
    {"data": {"name": "ch"}, "mark": {"type": "circle", "size": 42, "color": "#0000ff", "opacity": 0.5},
     "encoding": {"yOffset": {"field": "j", "type": "quantitative", "scale": {"domain": [-1, 1], "range": [6, 22]}}}},
    {"data": {"name": "med"}, "mark": {"type": "tick", "color": "#000", "opacity": 1, "thickness": 3.5, "size": 27, "orient": "vertical"}}
  ]
}
]
}
